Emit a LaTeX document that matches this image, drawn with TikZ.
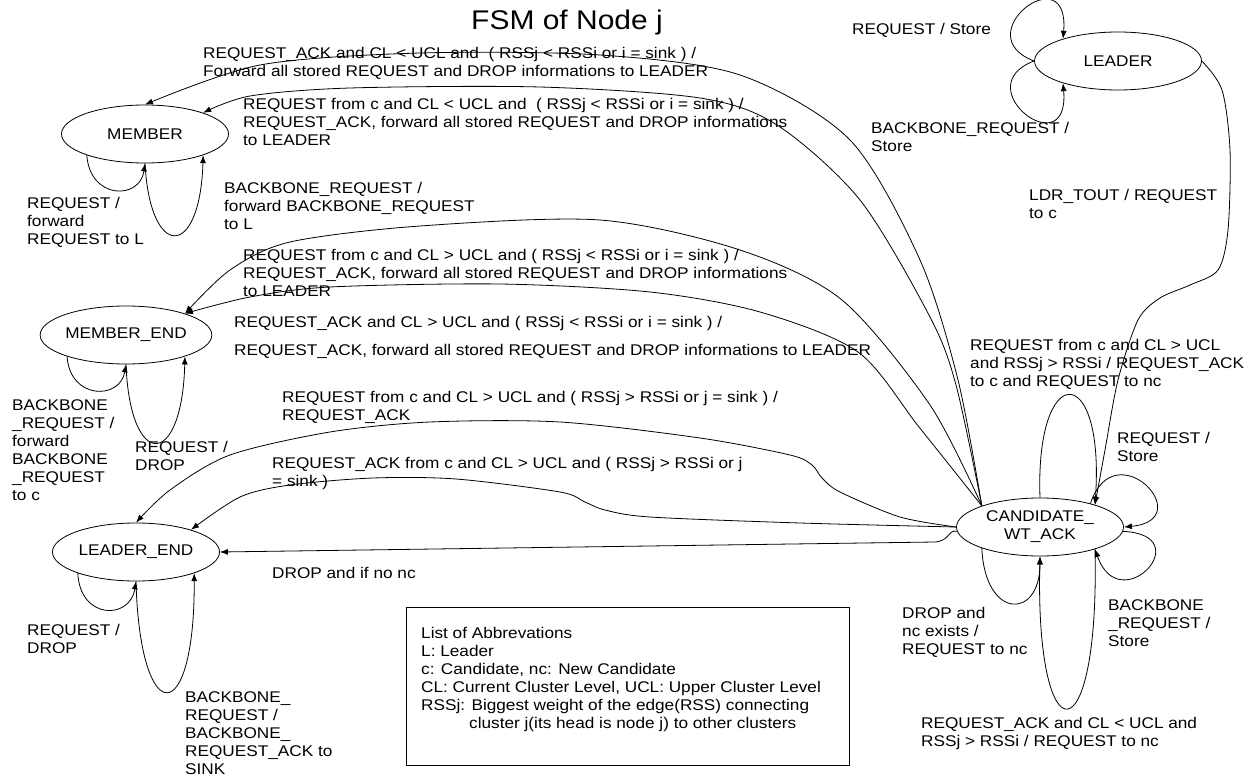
\documentclass[tikz,border=0pt]{standalone}
\usepackage{fontspec}
\setmainfont[FakeStretch=1.11]{Liberation Sans}
\usetikzlibrary{arrows.meta,shapes.geometric}
\tikzset{
  state/.style={draw, ellipse, line width=0.8pt, minimum width=167pt, minimum height=58pt, inner sep=0pt, align=center},
  lbl/.style={anchor=north west, inner sep=0pt, align=left},
  edge/.style={draw, line width=0.8pt, -{Latex[length=8pt,width=6pt]}},
}
\begin{document}
\begin{tikzpicture}[x=1pt, y=-1pt, font=\fontsize{15.5}{18}\selectfont]
            \useasboundingbox (0,0) rectangle (1254,776);

            \node (title) at (567,23) {\fontsize{27}{30}\selectfont FSM of Node j};

            \node[state] (member) at (145,134) {MEMBER};
            \node[state] (memberend) at (126,335) {MEMBER\_END};
            \node[state] (leaderend) at (136,552) {LEADER\_END};
            \node[state] (leader) at (1118,61) {LEADER};
            \node[state] (cand) at (1040,527) {CANDIDATE\_\\WT\_ACK};

            \node[draw, line width=0.8pt, anchor=north west, inner sep=0pt, minimum width=443pt, minimum height=158pt] (abbrev) at (406,607) {};
            \node[lbl] (abbrevtext) at (421,627) {List of Abbrevations\\L: Leader\\c: Candidate, nc: New Candidate\\CL: Current Cluster Level, UCL: Upper Cluster Level\\RSSj: Biggest weight of the edge(RSS) connecting\\\hspace*{48pt}cluster j(its head is node j) to other clusters};

            \draw[edge] plot[smooth] coordinates {(cand.160) (958,380) (920,260) (850,140) (740,75) (600,55) (420,53) (260,65) (member.90)};
            \draw[edge] plot[smooth] coordinates {(cand.160) (956,385) (930,317) (860,200) (777,125) (700,98) (540,87) (350,88) (250,96) (member.20)};
            \draw[edge] plot[smooth] coordinates {(cand.160) (930,405) (842,300) (740,250) (600,220) (420,226) (290,242) (230,270) (memberend.20)};
            \draw[edge] plot[smooth] coordinates {(cand.160) (919,427) (858,352) (760,312) (650,292) (500,284) (330,287) (250,297) (memberend.20)};
            \draw[edge] plot[smooth] coordinates {(cand.180) (900,517) (840,492) (822,478) (812,465) (790,455) (700,438) (560,422) (430,422) (330,432) (230,455) (170,490) (leaderend.90)};
            \draw[edge] plot[smooth] coordinates {(cand.180) (800,523) (650,517) (605,510) (585,502) (560,492) (456,479) (373,478) (290,485) (240,497) (leaderend.22)};
            \draw[edge] (cand.183) .. controls (948,529) and (950,541) .. (935,542) -- (leaderend.0);
            \draw[edge] plot[smooth] coordinates {(leader.0) (1222,90) (1230,150) (1228,230) (1218,270) (1190,285) (1160,298) (1138,320) (1118,380) (1105,450) (cand.22)};

            \draw[edge] (member.200) .. controls (90,200) and (140,200) .. (member.270);
            \draw[edge] (member.270) .. controls (150,260) and (200,260) .. (member.-20);
            \draw[edge] (memberend.200) .. controls (70,400) and (120,400) .. (memberend.270);
            \draw[edge] (memberend.270) .. controls (130,470) and (182,470) .. (memberend.-20);
            \draw[edge] (leaderend.200) .. controls (80,620) and (130,620) .. (leaderend.270);
            \draw[edge] (leaderend.270) .. controls (140,730) and (195,730) .. (leaderend.-20);
            \draw[edge] (leader.180) .. controls (965,35) and (1070,-45) .. (leader.158);
            \draw[edge] (leader.180) .. controls (965,87) and (1070,167) .. (leader.202);
            \draw[edge] (cand.90) .. controls (1035,360) and (1105,360) .. (cand.22);
            \draw[edge] (cand.25) .. controls (1115,430) and (1200,520) .. (cand.0);
            \draw[edge] (cand.-3) .. controls (1200,535) and (1120,620) .. (cand.-22);
            \draw[edge] (cand.-22) .. controls (1100,760) and (1035,760) .. (cand.270);
            \draw[edge] (cand.200) .. controls (985,620) and (1040,620) .. (cand.270);

            \node[lbl] (lblmemack) at (203,47) {REQUEST\_ACK and CL < UCL and~ ( RSSj < RSSi or i = sink ) /\\Forward all stored REQUEST and DROP informations to LEADER};
            \node[lbl] (lblmemreq) at (243,98) {REQUEST from c and CL < UCL and~ ( RSSj < RSSi or i = sink ) /\\REQUEST\_ACK, forward all stored REQUEST and DROP informations\\to LEADER};
            \node[lbl] (lblmemloopa) at (27,197) {REQUEST /\\forward\\REQUEST to L};
            \node[lbl] (lblmemloopb) at (224,182) {BACKBONE\_REQUEST /\\forward BACKBONE\_REQUEST\\to L};
            \node[lbl] (lblmendreq) at (243,249) {REQUEST from c and CL > UCL and ( RSSj < RSSi or i = sink ) /\\REQUEST\_ACK, forward all stored REQUEST and DROP informations\\to LEADER};
            \node[lbl] (lblmendack) at (234,316) {REQUEST\_ACK and CL > UCL and ( RSSj < RSSi or i = sink ) /\\[10pt]REQUEST\_ACK, forward all stored REQUEST and DROP informations to LEADER};
            \node[lbl] (lblmendloopa) at (12,399) {BACKBONE\\\_REQUEST /\\forward\\BACKBONE\\\_REQUEST\\to c};
            \node[lbl] (lblmendloopb) at (135,441) {REQUEST /\\DROP};
            \node[lbl] (lbllendreq) at (282,391) {REQUEST from c and CL > UCL and ( RSSj > RSSi or j = sink ) /\\REQUEST\_ACK};
            \node[lbl] (lbllendack) at (272,457) {REQUEST\_ACK from c and CL > UCL and ( RSSj > RSSi or j\\= sink )};
            \node[lbl] (lbllenddrop) at (272,567) {DROP and if no nc};
            \node[lbl] (lbllendloopa) at (27,624) {REQUEST /\\DROP};
            \node[lbl] (lbllendloopb) at (185,691) {BACKBONE\_\\REQUEST /\\BACKBONE\_\\REQUEST\_ACK to\\SINK};
            \node[lbl] (lblleadloopa) at (852,23) {REQUEST / Store};
            \node[lbl] (lblleadloopb) at (871,122) {BACKBONE\_REQUEST /\\Store};
            \node[lbl] (lbltout) at (1029,189) {LDR\_TOUT / REQUEST\\to c};
            \node[lbl] (lblcandtop) at (970,339) {REQUEST from c and CL > UCL\\and RSSj > RSSi / REQUEST\_ACK\\to c and REQUEST to nc};
            \node[lbl] (lblcandstore) at (1117,432) {REQUEST /\\Store};
            \node[lbl] (lblcandbb) at (1108,599) {BACKBONE\\\_REQUEST /\\Store};
            \node[lbl] (lblcanddrop) at (902,607) {DROP and\\nc exists /\\REQUEST to nc};
            \node[lbl] (lblcandbottom) at (921,717) {REQUEST\_ACK and CL < UCL and\\RSSj > RSSi / REQUEST to nc};
        \end{tikzpicture}
\end{document}
